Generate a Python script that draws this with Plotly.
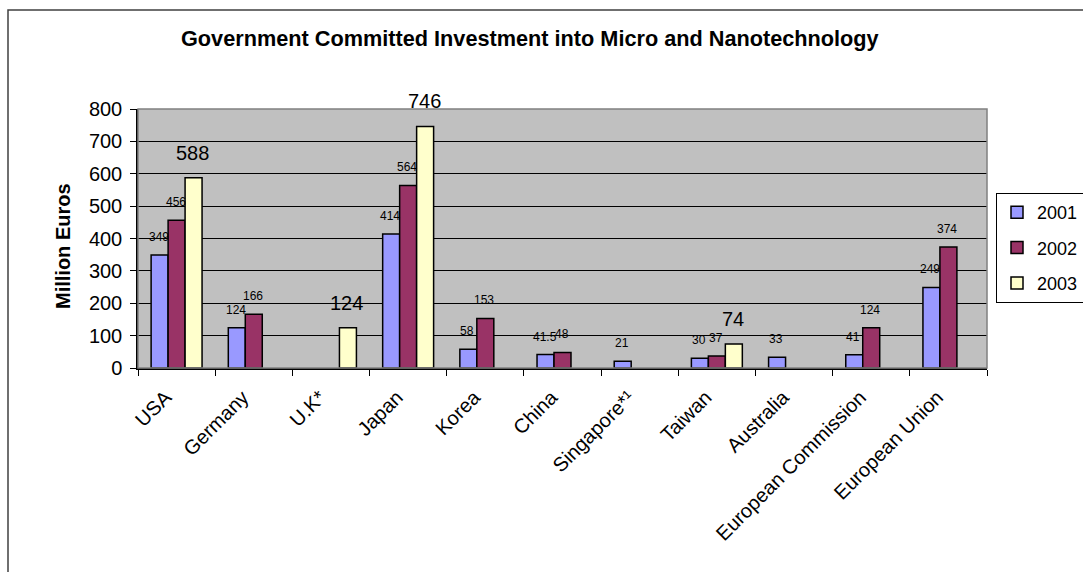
import plotly.graph_objects as go

# Chart data
countries = ["USA", "Germany", "U.K*", "Japan", "Korea", "China", "Singapore*¹",
             "Taiwan", "Australia", "European Commission", "European Union"]
years = ["2001", "2002", "2003"]
inv_2001 = [349, 124, None, 414, 58, 41.5, 21, 30, 33, 41, 249]
inv_2002 = [456, 166, None, 564, 153, 48, None, 37, None, 124, 374]
inv_2003 = [588, None, 124, 746, None, None, None, 74, None, None, None]
y_ticks = [0, 100, 200, 300, 400, 500, 600, 700, 800]

series = [inv_2001, inv_2002, inv_2003]
colors = ["#9999FF", "#993366", "#FFFFCC"]
label_size = [12, 12, 20]
label_lift = [18, 18, 25]
bar_px = 17

FONT = "Liberation Sans, Arial, sans-serif"

# plot area geometry (pixels)
L, R, T, B = 138, 987, 109, 368
PW, PH = R - L, B - T


def px(x):
    return (x - L) / PW


def py(y):
    return (B - y) / PH


fig = go.Figure()
for i, (yr, vals) in enumerate(zip(years, series)):
    fig.add_trace(go.Bar(
        x=countries, y=vals, name=yr,
        marker=dict(color=colors[i], line=dict(color="black", width=1.5)),
        legendgroup=yr,
    ))

# Value labels above each bar
annotations = []
for i, vals in enumerate(series):
    for c, v in zip(countries, vals):
        if v is None:
            continue
        annotations.append(dict(
            x=c, y=v, xref="x", yref="y", text=f"{v:g}", showarrow=False,
            xshift=(i - 1) * bar_px - 1, yshift=label_lift[i],
            xanchor="center", yanchor="middle",
            font=dict(family=FONT, size=label_size[i], color="black"),
        ))

# Axis title
annotations.append(dict(
    x=px(63), y=py(246), xref="paper", yref="paper",
    xanchor="center", yanchor="middle",
    text="<b>Million Euros</b>", showarrow=False, textangle=-90,
    font=dict(family=FONT, size=20, color="black"),
))

# Chart title
annotations.append(dict(
    x=px(530), y=py(38), xref="paper", yref="paper",
    xanchor="center", yanchor="middle",
    text="<b>Government Committed Investment into Micro and Nanotechnology</b>",
    showarrow=False, font=dict(family=FONT, size=21.7, color="black"),
))

shapes = [
    # outer chart frame
    dict(type="rect", xref="paper", yref="paper",
         x0=px(8), x1=px(1095), y0=py(590), y1=py(10),
         line=dict(color="#404040", width=1.5), layer="below"),
    # plot area frame
    dict(type="rect", xref="paper", yref="paper", x0=0, x1=1, y0=0, y1=1,
         line=dict(color="#808080", width=1.5), layer="above"),
]

fig.update_layout(
    width=1083, height=572,
    margin=dict(l=L, r=1083 - R, t=T, b=572 - B, autoexpand=False),
    paper_bgcolor="white", plot_bgcolor="#C0C0C0",
    barmode="group", bargap=0.34, bargroupgap=0,
    font=dict(family=FONT, size=20, color="black"),
    showlegend=True,
    legend=dict(
        xref="container", yref="container",
        x=996 / 1083, y=1 - 193 / 572, xanchor="left", yanchor="top",
        bordercolor="black", borderwidth=1, bgcolor="white",
        font=dict(family=FONT, size=18, color="black"),
        tracegroupgap=9, itemwidth=30,
    ),
    annotations=annotations,
    shapes=shapes,
)
fig.update_xaxes(
    type="category", tickson="boundaries", ticks="outside", ticklen=6,
    tickcolor="black", tickangle=-45, showline=True, linecolor="black",
    linewidth=1.5, showgrid=False, tickfont=dict(family=FONT, size=20),
    ticklabelstandoff=8, ticklabelshift=-11,
)
fig.update_yaxes(
    range=[0, 800], tickvals=y_ticks, ticks="outside", ticklen=6,
    tickcolor="black", showline=True, linecolor="black", linewidth=1.5,
    showgrid=True, gridcolor="black", gridwidth=1, zeroline=False,
    tickfont=dict(family=FONT, size=20), ticklabelstandoff=4,
)

fig.write_html("out.html")
